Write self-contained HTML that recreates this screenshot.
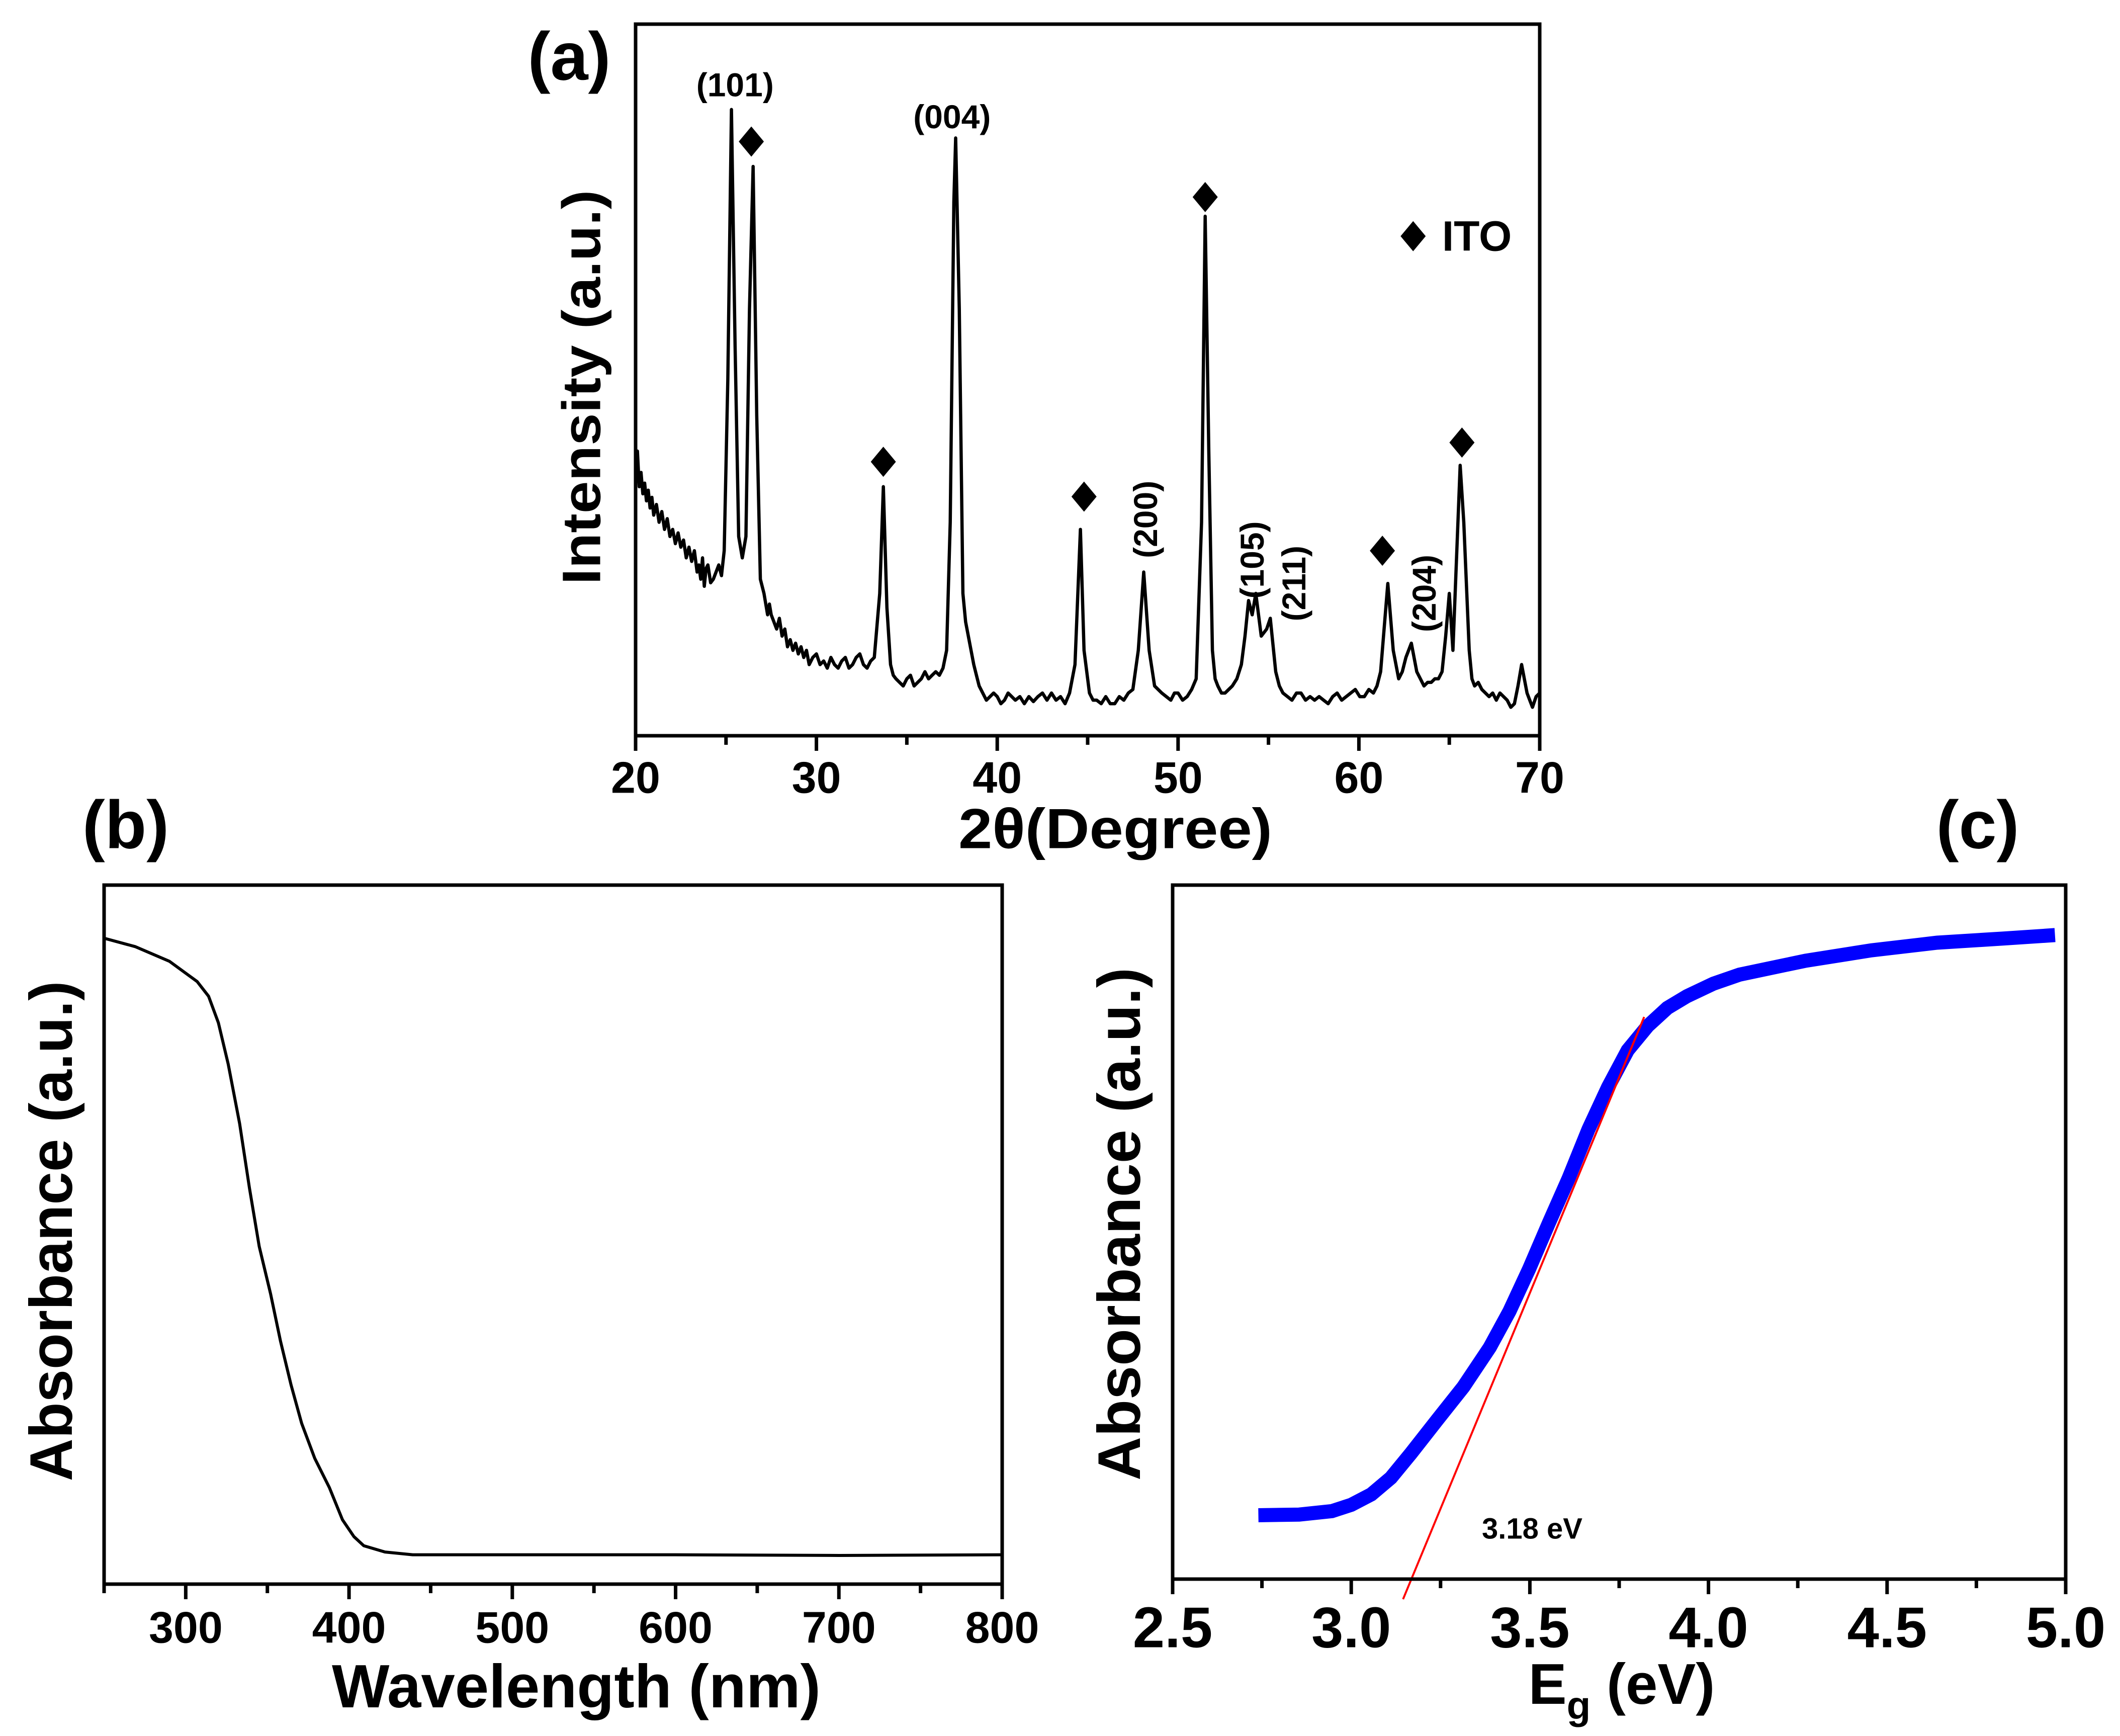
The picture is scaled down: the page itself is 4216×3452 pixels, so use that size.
<!DOCTYPE html>
<html><head><meta charset="utf-8"><style>
html,body{margin:0;padding:0;background:#fff}
svg{display:block}
text{font-family:"Liberation Sans",Arial,sans-serif;font-weight:bold;fill:#000}
</style></head><body>
<svg id="fig" xmlns="http://www.w3.org/2000/svg" width="4216" height="3452" viewBox="0 0 4216 3452">
<rect width="4216" height="3452" fill="#fff"/>
<g id="pa"></g>
<g id="pb"></g>
<g id="pc"></g>
</svg>
<script>
// ---- Panel (a) XRD data ----
const xrdTheta = [
20.0,20.1,20.2,20.3,20.4,20.5,20.6,20.7,20.8,20.9,
21.0,21.15,21.3,21.45,21.6,21.75,21.9,22.05,22.2,22.35,
22.5,22.65,22.8,22.95,23.1,23.25,23.4,23.5,23.6,23.7,
23.8,23.9,24.0,24.15,24.3,24.45,24.6,24.75,24.9,
25.1,25.3,25.5,25.7,25.9,26.1,26.3,26.5,26.7,26.9,
27.0,27.1,27.2,27.3,27.4,27.5,27.65,27.8,27.95,28.1,
28.25,28.4,28.55,28.7,28.85,29.0,29.15,29.3,29.45,29.6,
29.8,30.0,30.2,30.4,30.6,30.8,31.0,31.2,31.4,31.6,
31.8,32.0,32.2,32.4,32.6,32.8,33.0,33.2,
33.5,33.7,33.9,34.1,34.25,34.4,34.6,34.8,35.0,35.2,
35.4,35.6,35.8,36.0,36.2,36.4,36.6,36.8,37.0,37.2,
37.4,37.6,37.7,37.9,38.1,38.25,38.4,38.55,38.7,38.85,
39.0,39.2,39.4,39.6,39.8,40.0,40.2,40.4,40.6,40.8,
41.0,41.25,41.5,41.75,42.0,42.25,42.5,42.75,43.0,43.25,
43.5,43.75,44.0,44.3,44.6,44.8,45.1,45.3,45.5,45.75,
46.0,46.25,46.5,46.75,47.0,47.25,47.5,47.8,48.1,48.4,
48.7,48.9,49.1,49.35,49.6,49.8,50.0,50.25,50.5,50.75,
51.0,51.3,51.5,51.7,51.9,52.05,52.2,52.4,52.6,52.8,
53.0,53.25,53.5,53.7,53.9,54.1,54.3,54.6,54.9,55.1,
55.4,55.6,55.8,56.05,56.3,56.55,56.8,57.05,57.3,57.55,
57.8,58.05,58.3,58.55,58.8,59.05,59.3,59.55,59.8,60.05,
60.3,60.55,60.8,61.0,61.2,61.6,61.9,62.2,62.4,62.6,
62.9,63.2,63.4,63.6,63.8,64.0,64.2,64.4,64.6,64.8,
65.0,65.2,65.4,65.6,65.8,66.1,66.25,66.4,66.6,66.8,
67.0,67.2,67.4,67.6,67.8,68.0,68.2,68.4,68.6,68.8,
69.0,69.15,69.3,69.45,69.6,69.8,70.0];
const xrdIntensity = [
36,40,35,37,34,35.5,33,34.5,32,33.5,
31,32.5,30,31.5,29,30.5,28,29,27,28.5,
26.5,27.5,25,26.5,24.5,26,23,24,22,25,
21,23.5,24,21.5,22,23,24,22.5,26,
50,88,55,28,25,28,60,80,45,22,
21,20,18.5,17,18.5,17,16,15,16.5,14,
15,12.5,13.5,12,13,11.5,12.5,11,12,10,
11,11.5,10,10.5,9.5,11,10,9.5,10.5,11,
9.5,10,11,11.5,10,9.5,10.5,11,
20,35,18,10,8.5,8,7.5,7,8,8.5,
7,7.5,8,9,8,8.5,9,8.5,9.5,12,
30,75,84,60,20,16,14,12,10,8.5,
7,6,5,5.5,6,5.5,4.5,5,6,5.5,
5,5.5,4.5,5.5,4.8,5.5,6,5,6,5,
5.5,4.5,6,10,29,12,6,5,5,4.5,
5.5,4.5,4.5,5.5,5,6,6.5,12,23,12,
7,6.5,6,5.5,5,6,6,5,5.5,6.5,
8,30,73,40,12,8,7,6,6,6.5,
7,8,10,14,19,17,20,14,15,16.5,
9,7,6,5.5,5,6,6,5,5.5,5,
5.5,5,4.5,5.5,6,5,5.5,6,6.5,5.5,
5.5,6.5,6,7,9,21.4,12,8,9,11,
13,9,8,7,7.5,7.5,8,8,9,14,
20,12,25,38,30,12,8,7,7.5,6.5,
6,5.5,6,5,6,5.5,5,4,4.5,7,
10,8,6,5,4,5.5,6];
const xrdTicks = [20,30,40,50,60,70];
const itoMarkX = [26.4,33.7,44.8,51.5,61.3,65.7];
const itoMarkY = [83.5,38.5,33.6,75.7,26,41.2];
const hklLabels = ["(101)","(004)","(200)","(105)","(211)","(204)"];
const hklX = [25.5,37.5,48.2,54.1,56.4,63.6];
const hklY = [91.5,87,30.4,24.7,21.4,20];
const hklRot = [0,0,-90,-90,-90,-90];
// ---- Panel (b) absorbance data ----
const wlNm = [250,269,290,307,314,320,326,333,339,345,352,358,364.5,371,379,388,396,403,409,422,439,500,600,700,800];
const absB = [92.4,91.2,89.1,86.2,84.1,80.3,74.4,65.9,56.7,48.3,41.5,34.8,28.5,23,18,13.8,9.2,6.8,5.5,4.6,4.2,4.2,4.2,4.1,4.2];
const wlTicks = [300,400,500,600,700,800];
// ---- Panel (c) band gap data ----
const egEv = [2.74,2.854,2.946,3.0,3.056,3.111,3.167,3.24,3.314,3.388,3.443,3.498,3.553,3.609,3.664,3.719,3.774,3.83,3.885,3.94,4.014,4.087,4.272,4.456,4.64,4.824,4.97];
const absC = [9.2,9.3,9.8,10.7,12.2,14.6,18.1,22.9,27.7,33.4,38.6,44.7,51.3,57.8,64.8,70.9,76.2,79.7,82.3,84,85.8,87.1,89.1,90.6,91.7,92.3,92.8];
const fitX = [3.145,3.82];
const fitY = [-2.9,81];
const egTicks = [2.5,3.0,3.5,4.0,4.5,5.0];

const NS="http://www.w3.org/2000/svg";
function mk(parent,tag,attrs,txt){const e=document.createElementNS(NS,tag);for(const k in attrs)e.setAttribute(k,attrs[k]);if(txt!==undefined)e.textContent=txt;parent.appendChild(e);return e;}
function lin(d0,d1,r0,r1){return v=>r0+(v-d0)/(d1-d0)*(r1-r0);}

function frame(g,L,R,T,B,name){
  const r=mk(g,'rect',{x:L,y:T,width:R-L,height:B-T,fill:'none',stroke:'#000','stroke-width':7});
  
  
}
function ticks(g,sx,B,majors,minorStep,lo,hi,fs,ly,fmt,name){
  for(let v=lo; v<=hi+1e-9; v+=minorStep){
    const isMaj = majors.some(m=>Math.abs(m-v)<1e-6);
    const x=sx(v);
    const t=mk(g,'line',{x1:x,y1:B,x2:x,y2:B+(isMaj?30:18),stroke:'#000','stroke-width':7});
    
    
  }
  majors.forEach(m=>{
    const t=mk(g,'text',{x:sx(m),y:ly,'font-size':fs,'text-anchor':'middle','dominant-baseline':'central'},fmt(m));
    
    
  });
}
function path(g,xs,ys,sx,sy){let d='';const n=Math.min(xs.length,ys.length);for(let i=0;i<n;i++){d+=(i?'L':'M')+sx(xs[i]).toFixed(1)+','+sy(ys[i]).toFixed(1);}return d;}

// ---------- Panel A ----------
(function(){
  const g=document.getElementById('pa');
  const L=1264,R=3062,T=48,B=1463;
  const sx=lin(20,70,L,R), sy=lin(0,100,B,T);
  const p=mk(g,'path',{d:path(g,xrdTheta,xrdIntensity,sx,sy),fill:'none',stroke:'#000','stroke-width':6.5,'stroke-linejoin':'round'});
  
  
  frame(g,L,R,T,B,'panel-a-frame');
  ticks(g,sx,B,xrdTicks,5,20,70,88,1546,v=>String(v),'x-axis-a');
  itoMarkX.forEach((x,i)=>{
    const cx=sx(x),cy=sy(itoMarkY[i]);
    const d=mk(g,'polygon',{points:`${cx},${cy-30} ${cx+25},${cy} ${cx},${cy+30} ${cx-25},${cy}`,fill:'#000'});
    
    
  });
  hklLabels.forEach((s,i)=>{
    const x=sx(hklX[i]),y=sy(hklY[i]);
    const t=mk(g,'text',{x:x,y:y,'font-size':66,'text-anchor':'middle','dominant-baseline':'central',transform:`rotate(${hklRot[i]} ${x} ${y})`},s);
    
    
  });
  const lx=sx(63.0),ly=sy(70.2);
  const ld=mk(g,'polygon',{points:`${lx},${ly-30} ${lx+25},${ly} ${lx},${ly+30} ${lx-25},${ly}`,fill:'#000'});
  
  
  const lt=mk(g,'text',{x:sx(64.6),y:ly,'font-size':84,'dominant-baseline':'central'},'ITO');
  
  
  const xt=mk(g,'text',{x:2218,y:1648,'font-size':112,'text-anchor':'middle','dominant-baseline':'central',textLength:624,lengthAdjust:'spacingAndGlyphs'},'2θ(Degree)');
  
  
  const yt=mk(g,'text',{x:1156,y:770,'font-size':108,'text-anchor':'middle','dominant-baseline':'central',transform:'rotate(-90 1156 770)',textLength:785,lengthAdjust:'spacingAndGlyphs'},'Intensity (a.u.)');
  
  
  const pl=mk(g,'text',{x:1132,y:112,'font-size':135,'text-anchor':'middle','dominant-baseline':'central'},'(a)');
  
  
})();

// ---------- Panel B ----------
(function(){
  const g=document.getElementById('pb');
  const L=207,R=1993,T=1760,B=3150;
  const sx=lin(250,800,L,R), sy=lin(0,100,B,T);
  const p=mk(g,'path',{d:path(g,wlNm,absB,sx,sy),fill:'none',stroke:'#000','stroke-width':6,'stroke-linejoin':'round'});
  
  
  frame(g,L,R,T,B,'panel-b-frame');
  ticks(g,sx,B,wlTicks,50,250,800,88,3236,v=>String(v),'x-axis-b');
  const xt=mk(g,'text',{x:1146,y:3395,'font-size':122,'text-anchor':'middle',textLength:972,lengthAdjust:'spacingAndGlyphs'},'Wavelength (nm)');
  
  
  const yt=mk(g,'text',{x:102,y:2448,'font-size':120,'text-anchor':'middle','dominant-baseline':'central',transform:'rotate(-90 102 2448)',textLength:995,lengthAdjust:'spacingAndGlyphs'},'Absorbance (a.u.)');
  
  
  const pl=mk(g,'text',{x:250,y:1640,'font-size':135,'text-anchor':'middle','dominant-baseline':'central'},'(b)');
  
  
})();

// ---------- Panel C ----------
(function(){
  const g=document.getElementById('pc');
  const L=2332,R=4108,T=1760,B=3140;
  const sx=lin(2.5,5.0,L,R), sy=lin(0,100,B,T);
  const p=mk(g,'path',{d:path(g,egEv,absC,sx,sy),fill:'none',stroke:'#0000ff','stroke-width':28,'stroke-linejoin':'miter'});
  
  
  const f=mk(g,'line',{x1:sx(fitX[0]),y1:sy(fitY[0]),x2:sx(fitX[1]),y2:sy(fitY[1]),stroke:'#ff0000','stroke-width':4});
  
  
  frame(g,L,R,T,B,'panel-c-frame');
  ticks(g,sx,B,egTicks,0.25,2.5,5.0,114,3237,v=>v.toFixed(1),'x-axis-c');
  const an=mk(g,'text',{x:3047,y:3040,'font-size':58,'text-anchor':'middle','dominant-baseline':'central'},'3.18 eV');
  
  
  const xt=mk(g,'text',{x:3225,y:3388,'font-size':114,'text-anchor':'middle'});
  
  
  mk(xt,'tspan',{},'E');
  mk(xt,'tspan',{'font-size':78,dy:30},'g');
  mk(xt,'tspan',{dy:-30},' (eV)');
  const yt=mk(g,'text',{x:2226,y:2434,'font-size':120,'text-anchor':'middle','dominant-baseline':'central',transform:'rotate(-90 2226 2434)',textLength:1020,lengthAdjust:'spacingAndGlyphs'},'Absorbance (a.u.)');
  
  
  const pl=mk(g,'text',{x:3933,y:1640,'font-size':135,'text-anchor':'middle','dominant-baseline':'central'},'(c)');
  
  
})();
</script>
</body></html>
